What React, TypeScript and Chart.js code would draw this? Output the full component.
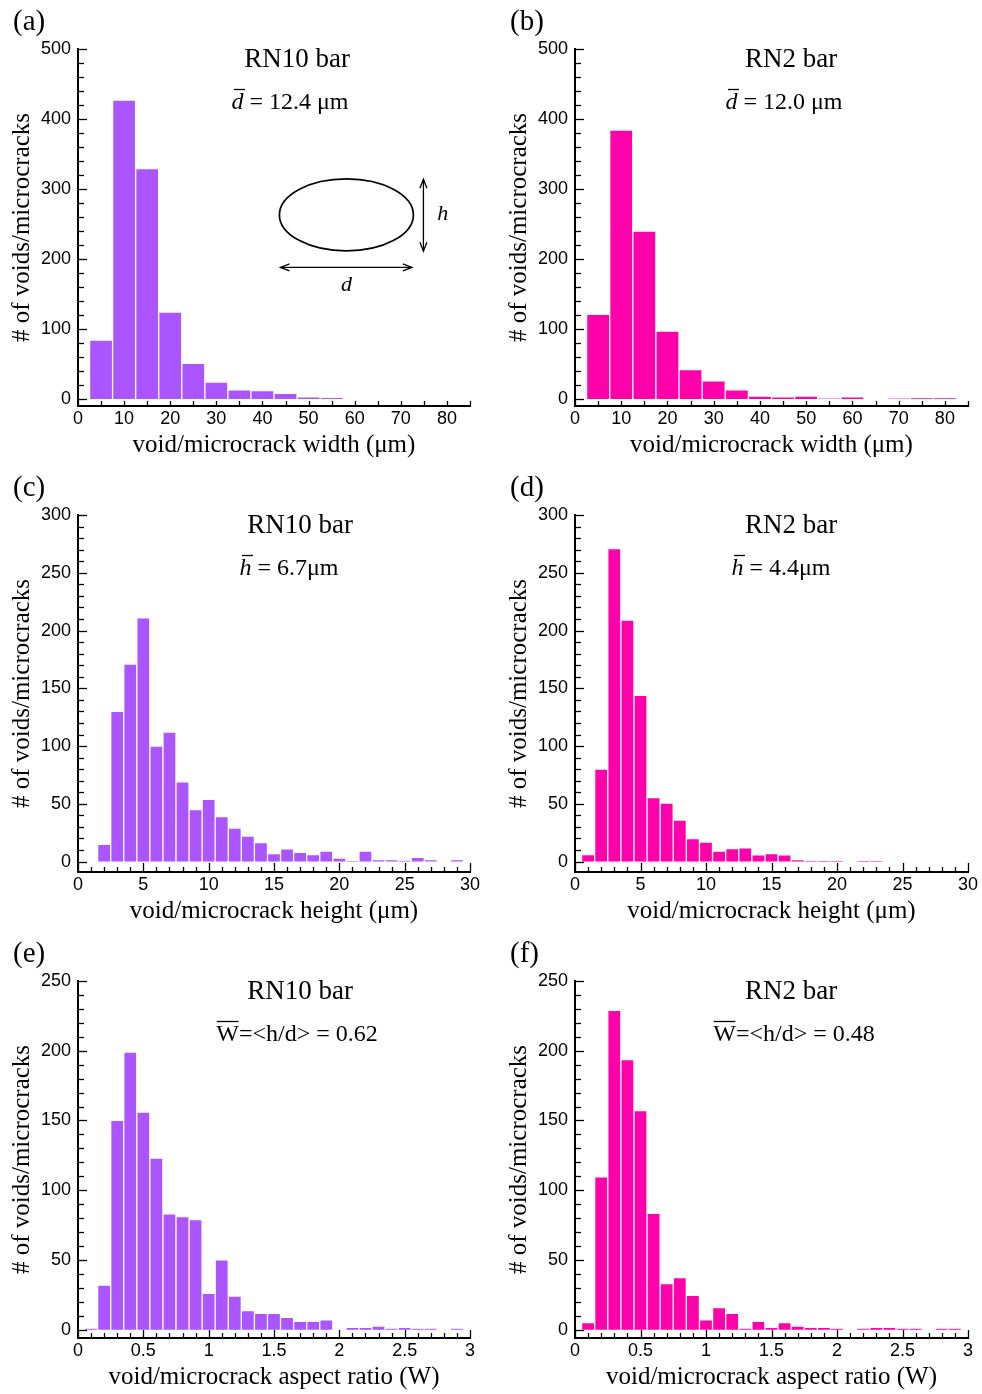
import React, { useEffect, useRef } from 'react';
import { Chart, registerables } from 'chart.js';

Chart.register(...registerables);
Chart.defaults.font.family = '"Liberation Sans", Arial, sans-serif';

// ---------- data ----------
const widthBins = [5, 10, 15, 20, 25, 30, 35, 40, 45, 50, 55, 60, 65, 70, 75, 80];
const widthRN10 = [84, 427, 329, 124, 51, 24, 13, 12, 8, 3, 2, 0, 0, 0, 0, 0];
const widthRN2 = [121, 384, 240, 97, 42, 26, 13, 4, 3, 4, 0.5, 3, 0, 0.5, 1.5, 1.5];

const heightBins = [1, 2, 3, 4, 5, 6, 7, 8, 9, 10, 11, 12, 13, 14, 15, 16, 17, 18, 19, 20, 21, 22, 23, 24, 25, 26, 27, 28, 29];
const heightRN10 = [0, 15, 130, 171, 211, 100, 112, 69, 45, 54, 39, 29, 22, 16.5, 7, 11, 8, 6, 9, 3, 0.6, 9, 1.7, 1.7, 0.9, 3.8, 1.7, 0, 1.7];
const heightRN2 = [6, 80, 271, 209, 144, 55.5, 50.6, 36, 20, 17, 9, 11.3, 12, 5.8, 7, 5.8, 1.7, 0.5, 0.5, 0.5, 0, 0.5, 0.5, 0, 0, 0, 0, 0, 0];

const ratioBins = [0.1, 0.2, 0.3, 0.4, 0.5, 0.6, 0.7, 0.8, 0.9, 1.0, 1.1, 1.2, 1.3, 1.4, 1.5, 1.6, 1.7, 1.8, 1.9, 2.0, 2.1, 2.2, 2.3, 2.4, 2.5, 2.6, 2.7, 2.8, 2.9];
const ratioRN10 = [0.7, 32, 150, 199, 156, 123, 83, 81, 79, 26, 50, 24, 13.6, 11.7, 11.7, 8.8, 6, 6, 7, 0, 1.7, 1.7, 2.6, 0.7, 1.7, 0.7, 0.7, 0, 0.7];
const ratioRN2 = [5, 109.5, 229, 193.6, 157, 83.4, 33, 37.3, 24.6, 7, 15.8, 11.7, 0.7, 6, 1.7, 5, 2.6, 1.7, 1.7, 0.7, 0, 0.7, 1.7, 1.7, 0.7, 0.7, 0, 0.7, 0.7];

const widthTicks = [0, 10, 20, 30, 40, 50, 60, 70, 80];
const heightTicks = [0, 5, 10, 15, 20, 25, 30];
const ratioTicks = [0, 0.5, 1, 1.5, 2, 2.5, 3];
const countTicks500 = [0, 100, 200, 300, 400, 500];
const countTicks300 = [0, 50, 100, 150, 200, 250, 300];
const countTicks250 = [0, 50, 100, 150, 200, 250];

const panelLabels = ['(a)', '(b)', '(c)', '(d)', '(e)', '(f)'];
const panelTitles = ['RN10 bar', 'RN2 bar', 'RN10 bar', 'RN2 bar', 'RN10 bar', 'RN2 bar'];
const yTitle = '# of voids/microcracks';
const xTitleWidth = 'void/microcrack width (\u03bcm)';
const xTitleHeight = 'void/microcrack height (\u03bcm)';
const xTitleRatio = 'void/microcrack aspect ratio (W)';

type Seg = { t: string; it?: boolean; ov?: boolean };
const noteA: Seg[] = [{ t: 'd', it: true, ov: true }, { t: ' = 12.4 \u03bcm' }];
const noteB: Seg[] = [{ t: 'd', it: true, ov: true }, { t: ' = 12.0 \u03bcm' }];
const noteC: Seg[] = [{ t: 'h', it: true, ov: true }, { t: ' = 6.7\u03bcm' }];
const noteD: Seg[] = [{ t: 'h', it: true, ov: true }, { t: ' = 4.4\u03bcm' }];
const noteE: Seg[] = [{ t: 'W', ov: true }, { t: '=<h/d> = 0.62' }];
const noteF: Seg[] = [{ t: 'W', ov: true }, { t: '=<h/d> = 0.48' }];

// ---------- styles ----------
const PURPLE = '#aa55ff';
const PINK = '#ff00aa';
const EDGE = 'rgba(255,255,255,0.75)';
const CW = 491;
const CH = 466;
const SERIF = '"Liberation Serif", "Times New Roman", serif';

type Panel = {
  label: string; title: string; note: Seg[];
  bins: number[]; values: number[];
  xTicks: number[]; yTicks: number[];
  xMax: number; yMin: number; yMax: number;
  xMinor: number; xMajor: number; yMinor: number; yMajor: number;
  xMajorLen: number; xMinorLen: number;
  xTitle: string; color: string;
  left: number; top: number; padRight: number;
  titleX: number; noteX: number;
  diagram?: boolean;
};

const panels: Panel[] = [
  { label: panelLabels[0], title: panelTitles[0], note: noteA, bins: widthBins, values: widthRN10, xTicks: widthTicks, yTicks: countTicks500,
    xMax: 85, yMin: -10, yMax: 500, xMinor: 5, xMajor: 10, yMinor: 20, yMajor: 100, xMajorLen: 5, xMinorLen: 5,
    xTitle: xTitleWidth, color: PURPLE, left: 0, top: 0, padRight: 21, titleX: 297, noteX: 290, diagram: true },
  { label: panelLabels[1], title: panelTitles[1], note: noteB, bins: widthBins, values: widthRN2, xTicks: widthTicks, yTicks: countTicks500,
    xMax: 85, yMin: -10, yMax: 500, xMinor: 5, xMajor: 10, yMinor: 20, yMajor: 100, xMajorLen: 5, xMinorLen: 5,
    xTitle: xTitleWidth, color: PINK, left: 497, top: 0, padRight: 20, titleX: 294, noteX: 287 },
  { label: panelLabels[2], title: panelTitles[2], note: noteC, bins: heightBins, values: heightRN10, xTicks: heightTicks, yTicks: countTicks300,
    xMax: 30, yMin: -9, yMax: 300, xMinor: 1, xMajor: 5, yMinor: 10, yMajor: 50, xMajorLen: 9, xMinorLen: 5,
    xTitle: xTitleHeight, color: PURPLE, left: 0, top: 466, padRight: 21, titleX: 300, noteX: 289 },
  { label: panelLabels[3], title: panelTitles[3], note: noteD, bins: heightBins, values: heightRN2, xTicks: heightTicks, yTicks: countTicks300,
    xMax: 30, yMin: -9, yMax: 300, xMinor: 1, xMajor: 5, yMinor: 10, yMajor: 50, xMajorLen: 9, xMinorLen: 5,
    xTitle: xTitleHeight, color: PINK, left: 497, top: 466, padRight: 20, titleX: 294, noteX: 284 },
  { label: panelLabels[4], title: panelTitles[4], note: noteE, bins: ratioBins, values: ratioRN10, xTicks: ratioTicks, yTicks: countTicks250,
    xMax: 3, yMin: -6, yMax: 250, xMinor: 0.1, xMajor: 0.5, yMinor: 10, yMajor: 50, xMajorLen: 8, xMinorLen: 5,
    xTitle: xTitleRatio, color: PURPLE, left: 0, top: 932, padRight: 21, titleX: 300, noteX: 297 },
  { label: panelLabels[5], title: panelTitles[5], note: noteF, bins: ratioBins, values: ratioRN2, xTicks: ratioTicks, yTicks: countTicks250,
    xMax: 3, yMin: -6, yMax: 250, xMinor: 0.1, xMajor: 0.5, yMinor: 10, yMajor: 50, xMajorLen: 8, xMinorLen: 5,
    xTitle: xTitleRatio, color: PINK, left: 497, top: 932, padRight: 20, titleX: 294, noteX: 297 },
];

// diagram in panel (a), in data coordinates
const diagram = { cx: 58.2, cy: 263, rx: 67, ry: 36, hArrowY: 188, hArrowX1: 43.9, hArrowX2: 72.4, vArrowX: 74.9, vArrowY1: 314, vArrowY2: 211, hLabelX: 79.1, hLabelY: 256, dLabelX: 58.2, dLabelY: 155 };

function drawSegs(ctx: CanvasRenderingContext2D, segs: Seg[], cx: number, baseline: number, size: number) {
  const fontOf = (s: Seg) => `${s.it ? 'italic ' : ''}${size}px ${SERIF}`;
  let total = 0;
  const widths = segs.map((s) => { ctx.font = fontOf(s); const w = ctx.measureText(s.t).width; total += w; return w; });
  let x = cx - total / 2;
  ctx.textAlign = 'left';
  ctx.textBaseline = 'alphabetic';
  segs.forEach((s, i) => {
    ctx.font = fontOf(s);
    ctx.fillText(s.t, x, baseline);
    if (s.ov) {
      const y = Math.round(baseline - size * 0.82) + 0.5;
      ctx.beginPath();
      ctx.lineWidth = 1.3;
      ctx.moveTo(x + (s.it ? 2.5 : 0.5), y);
      ctx.lineTo(x + widths[i] + (s.it ? 1.5 : -0.5), y);
      ctx.stroke();
    }
    x += widths[i];
  });
}

function arrowHead(ctx: CanvasRenderingContext2D, x: number, y: number, dx: number, dy: number) {
  const L = 9, W = 3.5;
  const px = -dy, py = dx;
  ctx.beginPath();
  ctx.moveTo(x - dx * L + px * W, y - dy * L + py * W);
  ctx.lineTo(x, y);
  ctx.lineTo(x - dx * L - px * W, y - dy * L - py * W);
  ctx.stroke();
}

function overlayPlugin(p: Panel) {
  return {
    id: 'overlay',
    afterDraw(chart: any) {
      const ctx: CanvasRenderingContext2D = chart.ctx;
      const { chartArea } = chart;
      const xs = chart.scales.x;
      const ys = chart.scales.y;
      ctx.save();
      ctx.fillStyle = '#000';
      ctx.strokeStyle = '#000';

      // tick marks (inward)
      ctx.lineWidth = 1.3;
      const nY = Math.round(p.yMax / p.yMinor);
      for (let i = 0; i <= nY; i++) {
        const v = i * p.yMinor;
        const r = v / p.yMajor;
        const major = Math.abs(r - Math.round(r)) < 1e-6;
        const y = Math.round(ys.getPixelForValue(v)) + 0.5;
        ctx.beginPath();
        ctx.moveTo(chartArea.left, y);
        ctx.lineTo(chartArea.left + (major ? 9 : 6), y);
        ctx.stroke();
      }
      const nX = Math.round(p.xMax / p.xMinor);
      for (let i = 0; i <= nX; i++) {
        const v = i * p.xMinor;
        const r = v / p.xMajor;
        const major = Math.abs(r - Math.round(r)) < 1e-6;
        const x = Math.round(xs.getPixelForValue(v)) + 0.5;
        ctx.beginPath();
        ctx.moveTo(x, chartArea.bottom);
        ctx.lineTo(x, chartArea.bottom - (major ? p.xMajorLen : p.xMinorLen));
        ctx.stroke();
      }

      // panel label
      ctx.font = `29px ${SERIF}`;
      ctx.textAlign = 'left';
      ctx.textBaseline = 'alphabetic';
      ctx.fillText(p.label, 13, 30);

      // title
      ctx.font = `27px ${SERIF}`;
      ctx.textAlign = 'center';
      ctx.fillText(p.title, p.titleX, 67);

      // note
      drawSegs(ctx, p.note, p.noteX, 109, 24);

      if (p.diagram) {
        const cx = xs.getPixelForValue(diagram.cx);
        const cy = ys.getPixelForValue(diagram.cy);
        ctx.lineWidth = 1.7;
        ctx.beginPath();
        ctx.ellipse(cx, cy, diagram.rx, diagram.ry, 0, 0, Math.PI * 2);
        ctx.stroke();
        ctx.lineWidth = 1.3;
        const hy = ys.getPixelForValue(diagram.hArrowY);
        const hx1 = xs.getPixelForValue(diagram.hArrowX1);
        const hx2 = xs.getPixelForValue(diagram.hArrowX2);
        ctx.beginPath(); ctx.moveTo(hx1, hy); ctx.lineTo(hx2, hy); ctx.stroke();
        arrowHead(ctx, hx1, hy, -1, 0);
        arrowHead(ctx, hx2, hy, 1, 0);
        const vx = xs.getPixelForValue(diagram.vArrowX);
        const vy1 = ys.getPixelForValue(diagram.vArrowY1);
        const vy2 = ys.getPixelForValue(diagram.vArrowY2);
        ctx.beginPath(); ctx.moveTo(vx, vy1); ctx.lineTo(vx, vy2); ctx.stroke();
        arrowHead(ctx, vx, vy1, 0, -1);
        arrowHead(ctx, vx, vy2, 0, 1);
        ctx.font = `italic 22px ${SERIF}`;
        ctx.textAlign = 'center';
        ctx.fillText('h', xs.getPixelForValue(diagram.hLabelX), ys.getPixelForValue(diagram.hLabelY));
        ctx.fillText('d', xs.getPixelForValue(diagram.dLabelX), ys.getPixelForValue(diagram.dLabelY));
      }
      ctx.restore();
    },
  };
}

function makeConfig(p: Panel): any {
  return {
    type: 'bar',
    data: {
      datasets: [{
        data: p.bins.map((b, i) => ({ x: b, y: p.values[i] })),
        backgroundColor: p.color,
        borderColor: EDGE,
        borderWidth: 1,
        barPercentage: 1,
        categoryPercentage: 1,
      }],
    },
    options: {
      animation: false,
      responsive: false,
      maintainAspectRatio: false,
      events: [],
      layout: { padding: { left: 0, top: 49, right: p.padRight, bottom: 0 } },
      plugins: { legend: { display: false }, tooltip: { enabled: false }, title: { display: false } },
      scales: {
        x: {
          type: 'linear', min: 0, max: p.xMax, offset: false,
          grid: { display: false, drawTicks: false },
          border: { display: true, color: '#000', width: 2 },
          afterBuildTicks: (ax: any) => { ax.ticks = p.xTicks.map((v) => ({ value: v })); },
          afterFit: (s: any) => { s.height = 60; },
          ticks: { autoSkip: false, maxRotation: 0, padding: 2, color: '#000', font: { size: 18 }, callback: (v: any) => String(v) },
          title: { display: true, text: p.xTitle, color: '#000', font: { family: SERIF, size: 25 }, padding: { top: 0, bottom: 6 } },
        },
        y: {
          type: 'linear', min: p.yMin, max: p.yMax,
          grid: { display: false, drawTicks: false },
          border: { display: true, color: '#000', width: 2 },
          afterBuildTicks: (ax: any) => { ax.ticks = p.yTicks.map((v) => ({ value: v })); },
          afterFit: (s: any) => { s.width = 78; },
          ticks: { autoSkip: false, padding: 7, color: '#000', font: { size: 18 }, callback: (v: any) => String(v) },
          title: { display: true, text: yTitle, color: '#000', font: { family: SERIF, size: 25 }, padding: { top: 7, bottom: 0 } },
        },
      },
    },
    plugins: [overlayPlugin(p)],
  };
}

function PanelChart({ p }: { p: Panel }) {
  const ref = useRef<HTMLCanvasElement | null>(null);
  useEffect(() => {
    if (!ref.current) return;
    const chart = new Chart(ref.current, makeConfig(p));
    return () => chart.destroy();
  }, [p]);
  return (
    <canvas
      ref={ref}
      width={CW}
      height={CH}
      style={{ position: 'absolute', left: p.left, top: p.top, width: CW, height: CH }}
    />
  );
}

export default function App() {
  return (
    <div style={{ position: 'absolute', left: 0, top: 0, width: 982, height: 1394, overflow: 'hidden', background: '#fff' }}>
      {panels.map((p, i) => <PanelChart key={i} p={p} />)}
    </div>
  );
}
